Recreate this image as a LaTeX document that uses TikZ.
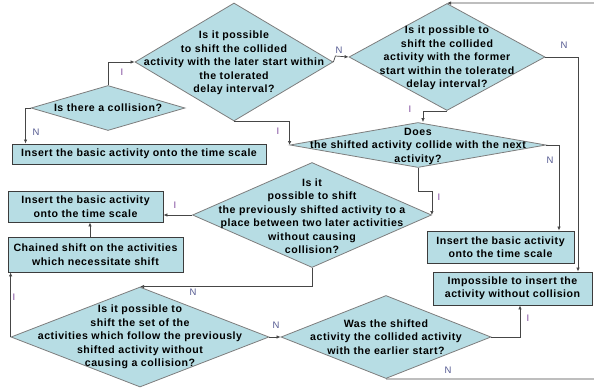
\documentclass[tikz,border=0pt]{standalone}
\usepackage{fontspec}
\setmainfont{Liberation Sans}
\newfontfamily\flowfont{Liberation Sans}[LetterSpace=5]
\usetikzlibrary{shapes.geometric,arrows.meta}
\definecolor{flowfill}{RGB}{183,221,228}
\definecolor{boxline}{RGB}{60,60,60}
\definecolor{dialine}{RGB}{125,125,125}
\definecolor{wire}{RGB}{70,70,70}
\definecolor{yescol}{RGB}{125,70,155}
\definecolor{nocol}{RGB}{85,90,145}
\begin{document}
\begin{tikzpicture}[
  x=1pt, y=-1pt,
  box/.style={draw=boxline, line width=0.9pt, fill=flowfill, inner sep=0pt, align=center,
    font=\flowfont\bfseries\fontsize{10.6}{13.5}\selectfont},
  dia/.style={diamond, draw=dialine, line width=0.8pt, fill=flowfill, inner sep=0pt},
  diatext/.style={align=center, inner sep=0pt, font=\flowfont\bfseries\fontsize{10.6}{13.5}\selectfont},
  arr/.style={-{Latex[length=4pt,width=3.5pt]}, draw=wire, line width=0.7pt},
  yes/.style={text=yescol, font=\fontsize{9.5}{10}\selectfont, inner sep=0pt},
  no/.style={text=nocol, font=\fontsize{9.5}{10}\selectfont, inner sep=0pt}
]
\clip[use as bounding box] (0,0) rectangle (594,388);

\node[dia, minimum width=154, minimum height=45] (collision) at (108,108) {};
\node[diatext] (collisiont) at (collision) {Is there a collision?};
\node[box, minimum width=254, minimum height=20] (insertA) at (139,154) {Insert the basic activity onto the time scale};

\node[dia, minimum width=198, minimum height=118] (later) at (234,62) {};
\node[diatext] (latert) at (234,63) {Is it possible\\to shift the collided\\activity with the later start within\\the tolerated\\delay interval?};
\node[dia, minimum width=196, minimum height=107] (former) at (447,57) {};
\node[diatext] (formert) at (447,58) {Is it possible to\\shift the collided\\activity with the former\\start within the tolerated\\delay interval?};
\node[dia, minimum width=256, minimum height=45] (next) at (418,145) {};
\node[diatext] (nextt) at (418,146) {Does\\the shifted activity collide with the next\\activity?};
\node[dia, minimum width=239, minimum height=105] (between) at (312,215) {};
\node[diatext] (betweent) at (312,216) {Is it\\possible to shift\\the previously shifted activity to a\\place between two later activities\\without causing\\collision?};

\node[box, minimum width=155, minimum height=31] (insertB) at (85.5,206.5) {Insert the basic activity\\onto the time scale};
\node[box, minimum width=175, minimum height=35] (chained) at (95.5,254.5) {Chained shift on the activities\\which necessitate shift};
\node[box, minimum width=147, minimum height=32] (insertC) at (500.5,247) {Insert the basic activity\\onto the time scale};
\node[box, minimum width=159, minimum height=33] (impossible) at (512.5,288.5) {Impossible to insert the\\activity without collision};

\node[dia, minimum width=258, minimum height=100] (set) at (140,337) {};
\node[diatext] (sett) at (140,337) {Is it possible to\\shift the set of the\\activities which follow the previously\\shifted activity without\\causing a collision?};
\node[dia, minimum width=210, minimum height=83] (earlier) at (386,337) {};
\node[diatext] (earliert) at (386,337) {Was the shifted\\activity the collided activity\\with the earlier start?};

\coordinate (loopcorner) at (604,3);

\draw[arr] (collision.north) |- (later.west);
\draw[arr] (collision.west) -| ([xshift=14]insertA.north west);
\draw[arr] (later.east) -- ++(2,-6) -- (former.west);
\draw[arr] (later.south) -| (next.west);
\draw[arr] (former.south) -| ([xshift=5]next.north);
\draw[arr] (former.east) -| ([xshift=65.5]impossible.north);
\draw[arr] (next.east) -| ([xshift=58.5]insertC.north);
\draw[arr] (next.south) -- ++(0,23) -| (between.east);
\draw[arr] (between.west) -- (between.west -| insertB.east);
\draw[arr] ([xshift=-5.5]chained.north) -- ([xshift=-5.5]chained.north |- insertB.south);
\draw[arr] (between.south) |- (set.north);
\draw[arr] (set.west) -- (set.west |- chained.south);
\draw[arr] (set.east) -- (earlier.west);
\draw[arr] (earlier.east) -| ([xshift=7.5]impossible.south);
\draw[arr] (earlier.south) -| (loopcorner) -- (former.north);

\node[yes] (yesA) at (122,72) {I};
\node[no] (noA) at (36,132) {N};
\node[no] (noB) at (339,50) {N};
\node[yes] (yesB) at (278,131) {I};
\node[yes] (yesC) at (410,109) {I};
\node[no] (noC) at (564,45) {N};
\node[no] (noD) at (550,160) {N};
\node[yes] (yesD) at (439,197) {I};
\node[yes] (yesE) at (175,205) {I};
\node[no] (noE) at (193,292) {N};
\node[yes] (yesF) at (14,297) {I};
\node[no] (noF) at (276,325) {N};
\node[yes] (yesG) at (528,318) {I};
\node[no] (noG) at (448,370) {N};
\end{tikzpicture}
\end{document}
